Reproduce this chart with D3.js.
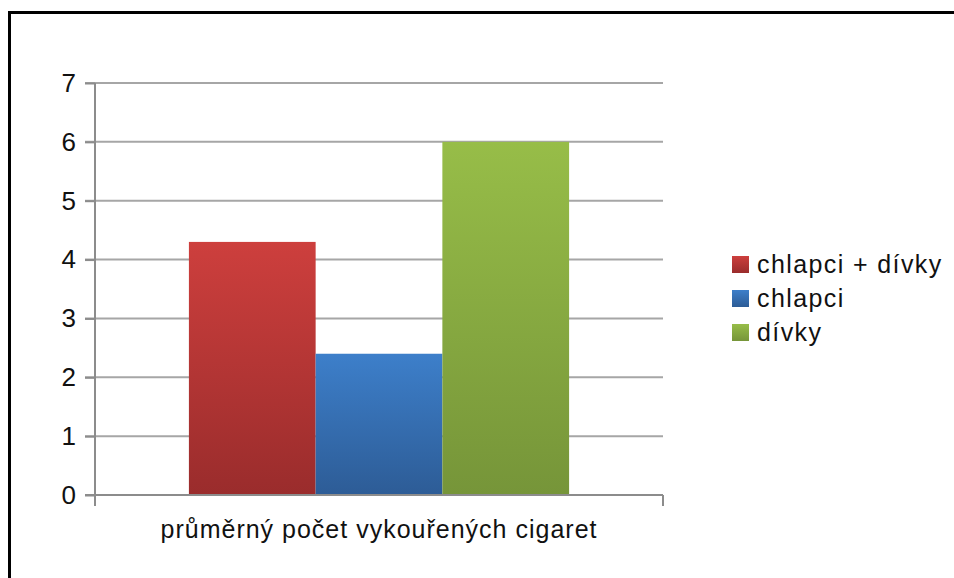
<!DOCTYPE html>
<html>
<head>
<meta charset="utf-8">
<script src="https://cdn.jsdelivr.net/npm/d3@7"></script>
<style>
  body { margin: 0; background: white; }
  svg { display: block; font-family: "Liberation Sans", Arial, sans-serif; }
</style>
</head>
<body>
<div id="chart"></div>
<script>
let categories = ['průměrný počet vykouřených cigaret'];
let seriesNames = ['chlapci + dívky', 'chlapci', 'dívky'];
let seriesValues = [4.3, 2.4, 6.0];
let yTicks = [0, 1, 2, 3, 4, 5, 6, 7];
let colors = [
    { top: '#cd3f3d', bottom: '#9a2c2c' },
    { top: '#3d7fca', bottom: '#2d5c96' },
    { top: '#97bd48', bottom: '#769539' }
];

let width = 954, height = 578;
let plot = { left: 95, right: 663, top: 83, bottom: 495 };

let svg = d3.select('#chart')
    .append('svg')
    .attr('width', width)
    .attr('height', height);

// frame
svg.append('rect')
    .attr('x', 9.5).attr('y', 12.5)
    .attr('width', 960).attr('height', 600)
    .attr('fill', 'white')
    .attr('stroke', 'black')
    .attr('stroke-width', 3);

let defs = svg.append('defs');
colors.forEach((c, i) => {
    let g = defs.append('linearGradient')
        .attr('id', 'grad' + i)
        .attr('x1', 0).attr('y1', 0).attr('x2', 0).attr('y2', 1);
    g.append('stop').attr('offset', '0%').attr('stop-color', c.top);
    g.append('stop').attr('offset', '100%').attr('stop-color', c.bottom);
});

let y = d3.scaleLinear([0, 7], [plot.bottom, plot.top]);
let x0 = d3.scaleBand(categories, [plot.left, plot.right]).paddingInner(0).paddingOuter(0.247);
let x1 = d3.scaleBand(seriesNames, [0, x0.bandwidth()]);

// gridlines
svg.append('g')
    .selectAll('line')
    .data(yTicks.filter(d => d > 0))
    .join('line')
    .attr('x1', plot.left - 10)
    .attr('x2', plot.right)
    .attr('y1', d => y(d))
    .attr('y2', d => y(d))
    .attr('stroke', '#a6a6a6')
    .attr('stroke-width', 2);

// bars
let bars = svg.append('g')
    .selectAll('g')
    .data(categories)
    .join('g')
    .attr('transform', d => `translate(${x0(d)},0)`);

bars.selectAll('rect')
    .data(seriesNames.map((s, i) => ({ name: s, value: seriesValues[i], i })))
    .join('rect')
    .attr('x', d => x1(d.name))
    .attr('y', d => y(d.value))
    .attr('width', x1.bandwidth())
    .attr('height', d => y(0) - y(d.value))
    .attr('fill', d => `url(#grad${d.i})`);

// y axis
let yAxis = svg.append('g')
    .attr('transform', `translate(${plot.left},0)`)
    .call(d3.axisLeft(y).tickValues(yTicks).tickSize(10).tickPadding(9).tickFormat(d3.format('d')));
yAxis.select('.domain').remove();
yAxis.selectAll('.tick line').attr('stroke', '#8c8c8c').attr('stroke-width', 2);
yAxis.selectAll('.tick text')
    .attr('font-size', 26)
    .attr('font-family', '"Liberation Sans", Arial, sans-serif')
    .attr('fill', '#111');

svg.append('line')
    .attr('x1', plot.left).attr('x2', plot.left)
    .attr('y1', plot.top).attr('y2', plot.bottom + 11)
    .attr('stroke', '#8c8c8c').attr('stroke-width', 2);

// x axis
svg.append('line')
    .attr('x1', plot.left - 10).attr('x2', plot.right)
    .attr('y1', plot.bottom).attr('y2', plot.bottom)
    .attr('stroke', '#8c8c8c').attr('stroke-width', 2);
svg.append('line')
    .attr('x1', plot.right).attr('x2', plot.right)
    .attr('y1', plot.bottom).attr('y2', plot.bottom + 11)
    .attr('stroke', '#8c8c8c').attr('stroke-width', 2);

svg.append('g')
    .selectAll('text')
    .data(categories)
    .join('text')
    .attr('x', d => x0(d) + x0.bandwidth() / 2)
    .attr('y', 538)
    .attr('text-anchor', 'middle')
    .attr('font-size', 25)
    .attr('letter-spacing', 1)
    .attr('fill', '#111')
    .text(d => d);

// legend
let legend = svg.append('g')
    .selectAll('g')
    .data(seriesNames)
    .join('g')
    .attr('transform', (d, i) => `translate(732,${256 + i * 34})`);

legend.append('rect')
    .attr('width', 17).attr('height', 17)
    .attr('fill', (d, i) => `url(#grad${i})`);

legend.append('text')
    .attr('x', 25)
    .attr('y', 17)
    .attr('font-size', 25)
    .attr('letter-spacing', 1.4)
    .attr('fill', '#111')
    .text(d => d);
</script>
</body>
</html>
